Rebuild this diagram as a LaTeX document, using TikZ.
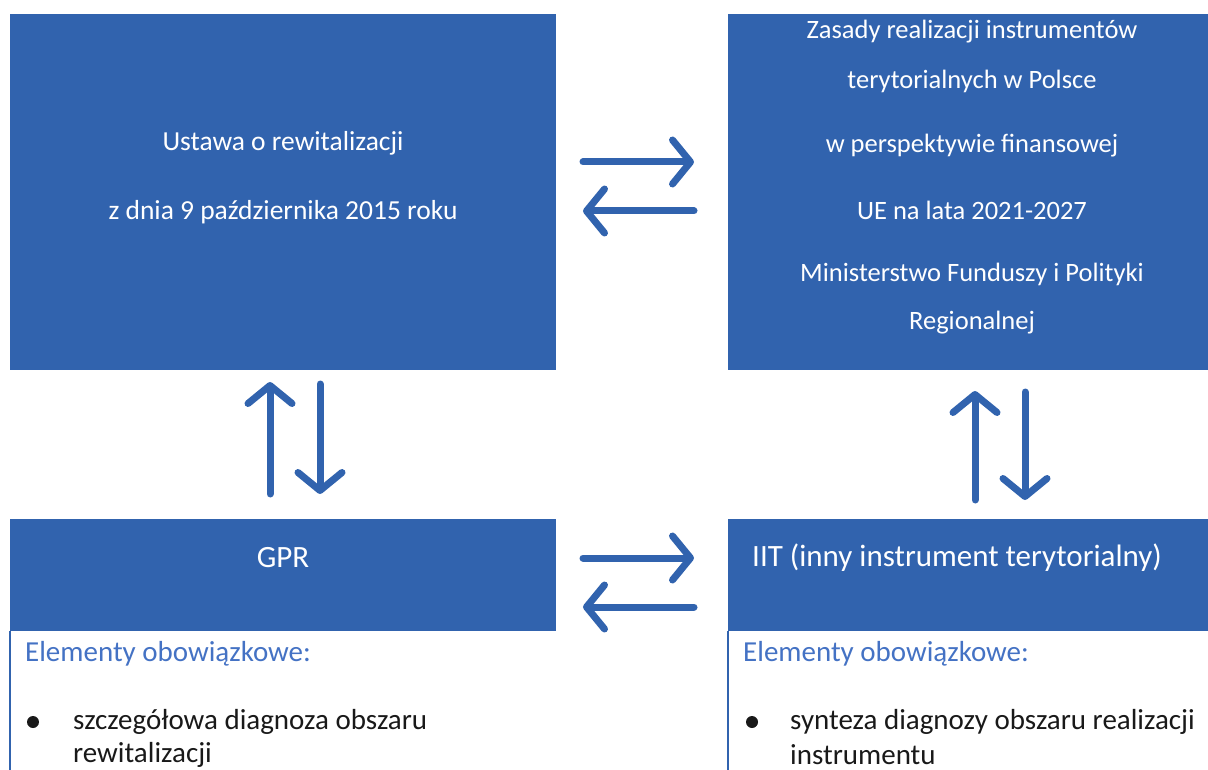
\documentclass[tikz,border=0pt]{standalone}
\usepackage{fontspec}
\setmainfont{Carlito}
\usetikzlibrary{arrows.meta}
\definecolor{boxblue}{RGB}{49,99,174}
\definecolor{headblue}{RGB}{68,114,196}
\definecolor{bodytxt}{RGB}{25,25,25}
\begin{document}
\begin{tikzpicture}[x=1pt,y=-1pt,
  box/.style={fill=boxblue, draw=none, inner sep=0pt, outer sep=0pt, anchor=north west},
  boxtext/.style={text=white, font=\fontsize{26.5}{30}\selectfont, inner sep=0pt},
  bigbox/.style={boxtext, font=\fontsize{27.5}{30}\selectfont},
  smallbox/.style={boxtext, font=\fontsize{31}{34}\selectfont},
  headtext/.style={text=headblue, font=\fontsize{29}{33}\selectfont, inner sep=0pt, anchor=west},
  bodytext/.style={text=bodytxt, font=\fontsize{29}{33}\selectfont, inner sep=0pt, anchor=west},
  arr/.style={draw=boxblue, line width=7pt, line cap=round, -{Straight Barb[length=18pt,width=44pt,round]}},
  sideline/.style={draw=boxblue, line width=2pt}
]
\useasboundingbox (0,0) rectangle (1208,770);
% boxes
\node[box, minimum width=546pt, minimum height=356pt] (tl) at (10,14) {};
\node[box, minimum width=480pt, minimum height=356pt] (tr) at (728,14) {};
\node[box, minimum width=546pt, minimum height=112pt] (bl) at (10,519) {};
\node[box, minimum width=480pt, minimum height=112pt] (br) at (728,519) {};
% box texts
\node[bigbox] (tl1) at (283,143) {Ustawa o rewitalizacji};
\node[bigbox] (tl2) at (283,212) {z dnia 9 października 2015 roku};
\node[boxtext] (tr1) at (972,32) {Zasady realizacji instrumentów};
\node[boxtext] (tr2) at (972,81) {terytorialnych w Polsce};
\node[boxtext] (tr3) at (972,146) {w perspektywie finansowej};
\node[boxtext] (tr4) at (972,210) {UE na lata 2021-2027};
\node[boxtext] (tr5) at (972,274) {Ministerstwo Funduszy i Polityki};
\node[boxtext] (tr6) at (972,323) {Regionalnej};
\node[smallbox] (blt) at (283,558) {GPR};
\node[smallbox] (brt) at (957,558) {IIT (inny instrument terytorialny)};
% side lines
\coordinate (ls) at (10,631); \coordinate (le) at (10,770);
\coordinate (rs) at (728,631); \coordinate (re) at (728,770);
\draw[sideline] (ls) -- (le);
\draw[sideline] (rs) -- (re);
% lower texts
\node[headtext] (lh) at (25,654) {Elementy obowiązkowe:};
\node[headtext] (rh) at (743,654) {Elementy obowiązkowe:};
\fill[bodytxt] (33,722) circle (6pt);
\fill[bodytxt] (752,722) circle (6pt);
\node[bodytext] (lb1) at (73,722) {szczegółowa diagnoza obszaru};
\node[bodytext] (lb2) at (73,755) {rewitalizacji};
\node[bodytext] (rb1) at (790,722) {synteza diagnozy obszaru realizacji};
\node[bodytext] (rb2) at (790,755) {instrumentu};
% arrow coordinates
\coordinate (a1s) at (583,162); \coordinate (a1e) at (694,162);
\coordinate (a2s) at (694,211); \coordinate (a2e) at (583,211);
\coordinate (a3s) at (583,558); \coordinate (a3e) at (694,558);
\coordinate (a4s) at (694,607); \coordinate (a4e) at (583,607);
\coordinate (a5s) at (270,494); \coordinate (a5e) at (270,382);
\coordinate (a6s) at (320,384); \coordinate (a6e) at (320,494);
\coordinate (a7s) at (975,500); \coordinate (a7e) at (975,391);
\coordinate (a8s) at (1025,392); \coordinate (a8e) at (1025,500);
\draw[arr] (a1s) -- (a1e);
\draw[arr] (a2s) -- (a2e);
\draw[arr] (a3s) -- (a3e);
\draw[arr] (a4s) -- (a4e);
\draw[arr] (a5s) -- (a5e);
\draw[arr] (a6s) -- (a6e);
\draw[arr] (a7s) -- (a7e);
\draw[arr] (a8s) -- (a8e);
\end{tikzpicture}
\end{document}
